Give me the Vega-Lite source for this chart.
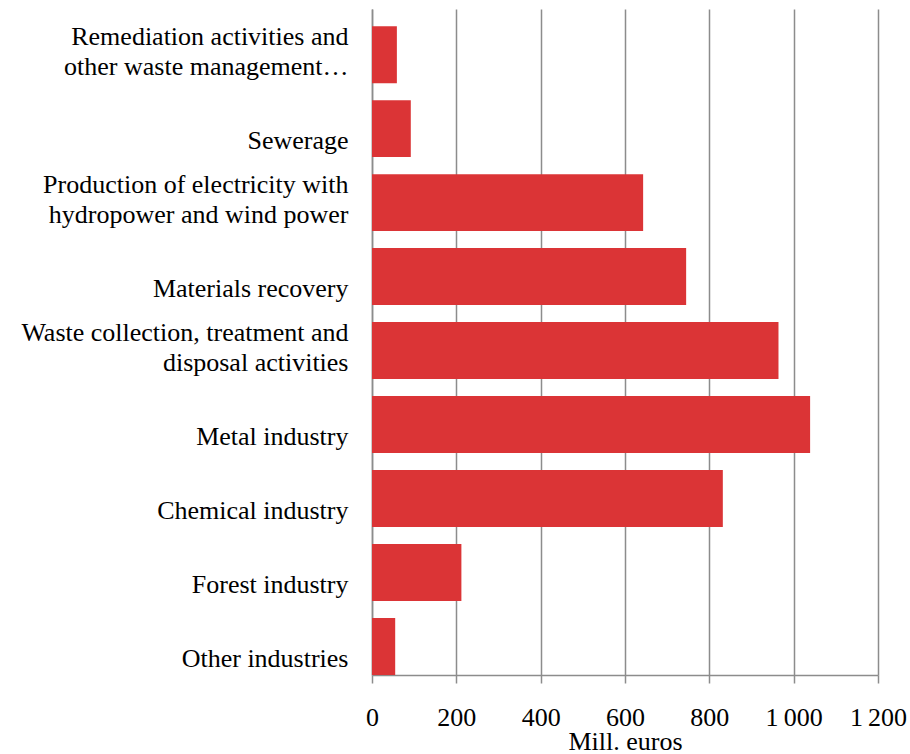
{
  "$schema": "https://vega.github.io/schema/vega-lite/v6.json",
  "autosize": {"type": "none"},
  "width": 506,
  "height": 666,
  "padding": {"left": 372, "top": 9, "right": 32, "bottom": 79},
  "background": "white",
  "config": {
    "font": "Liberation Serif",
    "view": {"stroke": null}
  },
  "data": {
    "values": [
      {"cat": "Remediation activities and|other waste management…", "value": 59},
      {"cat": "|Sewerage", "value": 92},
      {"cat": "Production of electricity with|hydropower and wind power", "value": 643},
      {"cat": "|Materials recovery", "value": 745},
      {"cat": "Waste collection, treatment and|disposal activities\u00a0\u00a0\u00a0\u00a0\u00a0\u00a0\u00a0\u00a0\u00a0\u00a0\u00a0", "value": 964},
      {"cat": "|Metal industry", "value": 1039},
      {"cat": "|Chemical industry", "value": 832},
      {"cat": "|Forest industry", "value": 212},
      {"cat": "|Other industries", "value": 55}
    ]
  },
  "mark": {"type": "bar", "color": "#db3436"},
  "encoding": {
    "y": {
      "field": "cat",
      "type": "nominal",
      "sort": null,
      "scale": {"paddingInner": 0.23, "paddingOuter": 0.116, "align": 1},
      "axis": {
        "title": null,
        "labelExpr": "split(datum.label, '|')",
        "labelFont": "Liberation Serif",
        "labelFontSize": 26,
        "labelLineHeight": 30,
        "labelColor": "black",
        "labelPadding": 24,
        "labelLimit": 500,
        "labelOffset": -18,
        "ticks": false,
        "grid": false,
        "domain": true,
        "domainColor": "#8c8c8c",
        "domainWidth": 1.5
      }
    },
    "x": {
      "field": "value",
      "type": "quantitative",
      "scale": {"domain": [0, 1200], "nice": false},
      "axis": {
        "title": "Mill. euros",
        "values": [0, 200, 400, 600, 800, 1000, 1200],
        "labelExpr": "replace(format(datum.value, ','), ',', '\u2009')",
        "labelFont": "Liberation Serif",
        "labelFontSize": 26,
        "labelColor": "black",
        "labelPadding": 21,
        "labelFlush": false,
        "labelOverlap": false,
        "tickSize": 8,
        "tickColor": "#8c8c8c",
        "tickWidth": 1.5,
        "grid": true,
        "gridColor": "#8c8c8c",
        "gridWidth": 1.5,
        "domain": true,
        "domainColor": "#8c8c8c",
        "domainWidth": 1.5,
        "titleFont": "Liberation Serif",
        "titleFontSize": 26,
        "titleFontWeight": "normal",
        "titleColor": "black",
        "titlePadding": -2
      }
    }
  }
}
